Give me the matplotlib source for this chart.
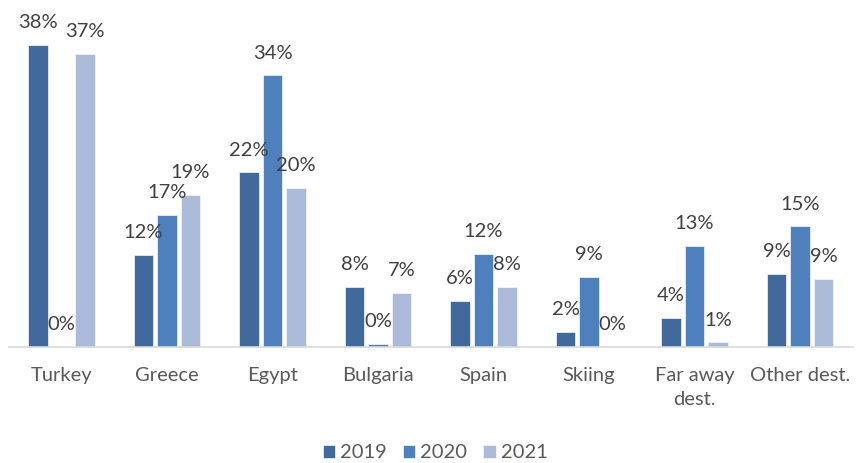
import numpy as np
import matplotlib
matplotlib.use('Agg')
import matplotlib.pyplot as plt

# Destinos y porcentajes por año
destinos = ['Turkey', 'Greece', 'Egypt', 'Bulgaria', 'Spain', 'Skiing', 'Far away\ndest.', 'Other dest.']
anios = ['2019', '2020', '2021']
v2019 = [38.0, 11.6, 22.0, 7.6, 5.8, 1.9, 3.7, 9.2]
v2020 = [0.0, 16.7, 34.2, 0.4, 11.7, 8.8, 12.8, 15.2]
v2021 = [36.9, 19.2, 20.0, 6.8, 7.6, 0.0, 0.6, 8.6]
colores = ['#41699c', '#4e80bd', '#aabad8']

plt.rcParams['font.family'] = ['Lato', 'DejaVu Sans']

fig = plt.figure(figsize=(8.57, 4.63), dpi=100)
ax = fig.add_axes([0.0102, 0.25, 0.985, 0.721])

x = np.arange(len(destinos))
paso = 0.2227
for i, (serie, color, anio) in enumerate(zip([v2019, v2020, v2021], colores, anios)):
    pos = x + (i - 1) * paso
    ax.bar(pos, serie, width=0.185, color=color, edgecolor='#f4f6fa', linewidth=0.5, label=anio)
    for xi, v in zip(pos, serie):
        ax.annotate(f'{v:.0f}%', (xi, v), xytext=(0, 10), textcoords='offset points',
                    ha='center', va='bottom', fontsize=14.5, color='#404040')

ax.set_xlim(-0.5, len(destinos) - 0.5)
ax.set_ylim(0, 42)
ax.set_xticks(x)
ax.set_xticklabels(destinos, fontsize=14.5, color='#595959', linespacing=1.5)
ax.tick_params(axis='x', length=0, pad=14)
ax.set_yticks([])
for lado in ['top', 'right', 'left']:
    ax.spines[lado].set_visible(False)
ax.spines['bottom'].set_color('#d9d9d9')
ax.spines['bottom'].set_linewidth(1.2)

fig.legend(loc='center', bbox_to_anchor=(0.508, 0.022), ncol=3, frameon=False,
           fontsize=14.5, labelcolor='#595959', handlelength=0.6, handleheight=0.6,
           handletextpad=0.25, columnspacing=0.8)

fig.savefig('out.png', dpi=100)
